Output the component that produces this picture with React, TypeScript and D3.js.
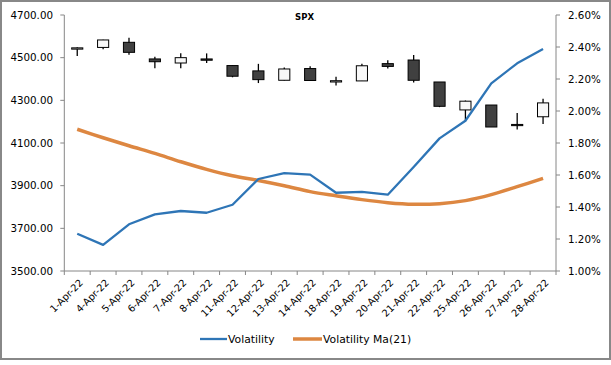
import React from 'react';
import * as d3 from 'd3';

const dates = ['1-Apr-22', '4-Apr-22', '5-Apr-22', '6-Apr-22', '7-Apr-22', '8-Apr-22', '11-Apr-22', '12-Apr-22', '13-Apr-22', '14-Apr-22', '18-Apr-22', '19-Apr-22', '20-Apr-22', '21-Apr-22', '22-Apr-22', '25-Apr-22', '26-Apr-22', '27-Apr-22', '28-Apr-22'];
const open = [4540, 4548, 4572, 4494, 4475, 4494, 4463, 4438, 4394, 4449, 4386, 4391, 4472, 4489, 4386, 4255, 4278, 4187, 4223];
const high = [4549, 4584, 4593, 4504, 4521, 4520, 4464, 4471, 4454, 4460, 4410, 4471, 4488, 4513, 4386, 4299, 4278, 4241, 4308];
const low = [4508, 4539, 4514, 4450, 4450, 4475, 4408, 4381, 4393, 4391, 4370, 4391, 4449, 4384, 4268, 4201, 4175, 4163, 4189];
const close = [4546, 4583, 4525, 4481, 4500, 4488, 4413, 4397, 4447, 4393, 4392, 4462, 4459, 4394, 4272, 4296, 4175, 4184, 4288];
const volatility = [1.233, 1.163, 1.292, 1.354, 1.375, 1.364, 1.414, 1.575, 1.612, 1.602, 1.489, 1.494, 1.477, 1.65, 1.829, 1.939, 2.173, 2.298, 2.388];
const volatilityMa = [1.886, 1.833, 1.783, 1.735, 1.683, 1.635, 1.595, 1.566, 1.533, 1.496, 1.47, 1.446, 1.427, 1.417, 1.421, 1.44, 1.477, 1.527, 1.579];
const leftTicks = [3500, 3700, 3900, 4100, 4300, 4500, 4700];
const rightTicks = [1.0, 1.2, 1.4, 1.6, 1.8, 2.0, 2.2, 2.4, 2.6];

const FONT = 'DejaVu Sans';
const AXIS = '#868686';

export default function App() {
  const left = 64.3;
  const right = 556;
  const top = 15;
  const bottom = 271;

  const x = d3.scaleBand().domain(dates).range([left, right]).padding(0);
  const yL = d3.scaleLinear().domain([3500, 4700]).range([bottom, top]);
  const yR = d3.scaleLinear().domain([1.0, 2.6]).range([bottom, top]);
  const cx = (d: string) => (x(d) as number) + x.bandwidth() / 2;
  const bodyW = x.bandwidth() * 0.43;

  const volLine = d3
    .line<number>()
    .x((_, i) => cx(dates[i]))
    .y((v) => yR(v));
  const maLine = d3
    .line<number>()
    .x((_, i) => cx(dates[i]))
    .y((v) => yR(v))
    .curve(d3.curveCatmullRom.alpha(0.5));

  return (
    <svg width={611} height={365} style={{ position: 'fixed', left: 0, top: 0 }}>
      <rect x={0} y={0} width={611} height={365} fill="#fff" />
      <rect x={1} y={1} width={609} height={358} fill="none" stroke="#888" strokeWidth={2} />

      <text x={304.5} y={20} fontFamily={FONT} fontSize={8.5} fontWeight="bold" textAnchor="middle">SPX</text>

      {/* left axis */}
      <line x1={left} x2={left} y1={top} y2={bottom} stroke={AXIS} />
      {leftTicks.map((t) => (
        <g key={t}>
          <line x1={left - 4} x2={left} y1={yL(t)} y2={yL(t)} stroke={AXIS} />
          <text x={53} y={yL(t)} dy="0.36em" textAnchor="end" fontFamily={FONT} fontSize={10.3} fill="#000">
            {t.toFixed(2)}
          </text>
        </g>
      ))}

      {/* right axis */}
      <line x1={right} x2={right} y1={top} y2={bottom} stroke={AXIS} />
      {rightTicks.map((t) => (
        <g key={t}>
          <line x1={right} x2={right + 4} y1={yR(t)} y2={yR(t)} stroke={AXIS} />
          <text x={568} y={yR(t)} dy="0.36em" textAnchor="start" fontFamily={FONT} fontSize={10.3} fill="#000">
            {t.toFixed(2) + '%'}
          </text>
        </g>
      ))}

      {/* bottom axis */}
      <line x1={left} x2={right} y1={bottom} y2={bottom} stroke={AXIS} />
      {dates.map((d) => (
        <line key={'t' + d} x1={x(d)} x2={x(d)} y1={bottom} y2={bottom + 4} stroke={AXIS} />
      ))}
      <line x1={right} x2={right} y1={bottom} y2={bottom + 4} stroke={AXIS} />
      {dates.map((d) => (
        <text
          key={'l' + d}
          transform={`translate(${cx(d) + 4},${bottom + 10}) rotate(-45)`}
          textAnchor="end"
          dy="0.35em"
          fontFamily={FONT}
          fontSize={9.8}
          fill="#000"
        >
          {d}
        </text>
      ))}

      {/* candles */}
      {dates.map((d, i) => {
        const up = close[i] >= open[i];
        const yTop = yL(Math.max(open[i], close[i]));
        const yBot = yL(Math.min(open[i], close[i]));
        const h = Math.max(yBot - yTop, 1.2);
        return (
          <g key={'c' + d}>
            <line x1={cx(d)} x2={cx(d)} y1={yL(high[i])} y2={yL(low[i])} stroke="#000" strokeWidth={1.3} />
            <rect
              x={cx(d) - bodyW / 2}
              y={yTop}
              width={bodyW}
              height={h}
              fill={up ? '#f8f8f8' : '#404040'}
              stroke="#000"
              strokeWidth={1}
            />
          </g>
        );
      })}

      <path d={maLine(volatilityMa) ?? ''} fill="none" stroke="#DD8741" strokeWidth={3.5} strokeLinejoin="round" />
      <path d={volLine(volatility) ?? ''} fill="none" stroke="#2E75B6" strokeWidth={2.3} strokeLinejoin="round" />

      {/* legend */}
      <line x1={200} x2={227} y1={339} y2={339} stroke="#2E75B6" strokeWidth={2.3} />
      <text x={228} y={339} dy="0.36em" fontFamily={FONT} fontSize={10.8} fill="#000">Volatility</text>
      <line x1={293} x2={322} y1={339} y2={339} stroke="#DD8741" strokeWidth={3.5} />
      <text x={323} y={339} dy="0.36em" fontFamily={FONT} fontSize={10.8} fill="#000">Volatility Ma(21)</text>
    </svg>
  );
}
